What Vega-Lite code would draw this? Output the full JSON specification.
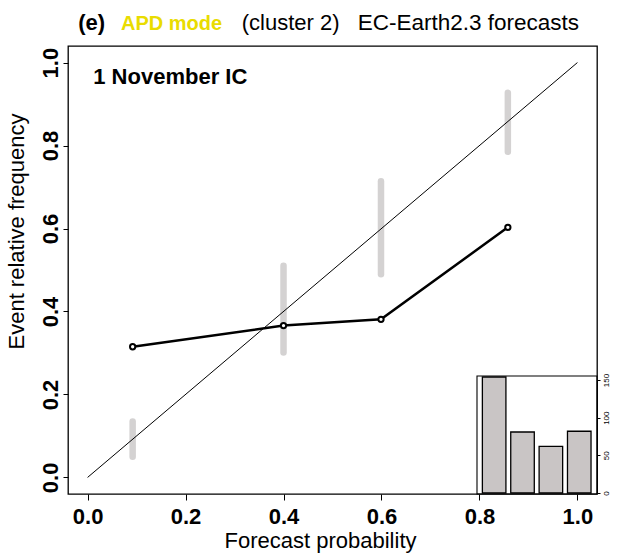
{
  "$schema": "https://vega.github.io/schema/vega-lite/v6.json",
  "width": 529,
  "height": 448,
  "autosize": {"type": "none"},
  "padding": {"left": 68, "top": 46, "right": 22, "bottom": 60},
  "background": "white",
  "config": {
    "font": "Liberation Sans",
    "view": {"stroke": "black", "strokeWidth": 1.3}
  },
  "datasets": {
    "rel": [
      {"prob": 0.092, "freq": 0.315, "lo": 0.05, "hi": 0.135},
      {"prob": 0.4, "freq": 0.366, "lo": 0.301, "hi": 0.51},
      {"prob": 0.599, "freq": 0.381, "lo": 0.49, "hi": 0.714},
      {"prob": 0.858, "freq": 0.603, "lo": 0.785, "hi": 0.927}
    ],
    "hist": [
      {"bin": "0.09", "count": 154},
      {"bin": "0.40", "count": 81},
      {"bin": "0.60", "count": 62},
      {"bin": "0.86", "count": 82}
    ],
    "one": [{}]
  },
  "layer": [
    {
      "layer": [
        {
          "data": {"name": "rel"},
          "mark": {"type": "rule", "stroke": "#d4d2d2", "strokeWidth": 6.5, "strokeCap": "round"},
          "encoding": {
            "x": {
              "field": "prob", "type": "quantitative",
              "scale": {"domain": [-0.04, 1.04], "nice": false, "zero": false},
              "axis": {
                "title": "Forecast probability",
                "values": [0, 0.2, 0.4, 0.6, 0.8, 1.0],
                "format": ".1f",
                "grid": false, "domain": false,
                "tickSize": 6, "tickColor": "black", "tickWidth": 1,
                "labelFontSize": 22, "labelFontWeight": "bold", "labelColor": "black",
                "labelPadding": 6,
                "titleFontSize": 22, "titleFontWeight": "normal", "titleColor": "black",
                "titlePadding": 3,
                "titleX": 252
              }
            },
            "y": {
              "field": "lo", "type": "quantitative",
              "scale": {"domain": [-0.04, 1.04], "nice": false, "zero": false},
              "axis": {
                "title": "Event relative frequency",
                "values": [0, 0.2, 0.4, 0.6, 0.8, 1.0],
                "format": ".1f",
                "grid": false, "domain": false,
                "tickSize": 5, "tickColor": "black", "tickWidth": 1,
                "labelFontSize": 22, "labelFontWeight": "bold", "labelColor": "black",
                "labelAngle": -90, "labelAlign": "center", "labelBaseline": "alphabetic",
                "labelPadding": 6,
                "titleFontSize": 22, "titleFontWeight": "normal", "titleColor": "black",
                "titlePadding": 11,
                "titleY": 185
              }
            },
            "y2": {"field": "hi"}
          }
        },
        {
          "data": {"name": "one"},
          "mark": {"type": "rule", "stroke": "black", "strokeWidth": 1},
          "encoding": {
            "x": {"datum": 0, "type": "quantitative"},
            "y": {"datum": 0, "type": "quantitative"},
            "x2": {"datum": 1},
            "y2": {"datum": 1}
          }
        },
        {
          "data": {"name": "rel"},
          "mark": {"type": "line", "stroke": "black", "strokeWidth": 2.5},
          "encoding": {
            "x": {"field": "prob", "type": "quantitative"},
            "y": {"field": "freq", "type": "quantitative"}
          }
        },
        {
          "data": {"name": "rel"},
          "mark": {"type": "point", "shape": "circle", "filled": true, "fill": "white", "stroke": "black", "strokeWidth": 2, "size": 28, "opacity": 1},
          "encoding": {
            "x": {"field": "prob", "type": "quantitative"},
            "y": {"field": "freq", "type": "quantitative"}
          }
        },
        {
          "data": {"name": "one"},
          "mark": {"type": "rect", "filled": false, "stroke": "black", "strokeWidth": 1.1},
          "encoding": {
            "x": {"datum": 0.795, "type": "quantitative"},
            "x2": {"datum": 1.04},
            "y": {"datum": 0.2445, "type": "quantitative"},
            "y2": {"datum": -0.04}
          }
        },
        {
          "data": {"name": "one"},
          "mark": {"type": "text", "text": "1 November IC", "fontSize": 22, "fontWeight": "bold", "align": "left", "baseline": "alphabetic", "color": "black"},
          "encoding": {
            "x": {"datum": 0.0116, "type": "quantitative"},
            "y": {"datum": 0.949, "type": "quantitative"}
          }
        },
        {
          "data": {"name": "one"},
          "mark": {"type": "text", "text": "(e)", "fontSize": 22, "fontWeight": "bold", "align": "left", "baseline": "alphabetic", "color": "black"},
          "encoding": {
            "x": {"datum": -0.019, "type": "quantitative"},
            "y": {"datum": 1.0786, "type": "quantitative"}
          }
        },
        {
          "data": {"name": "one"},
          "mark": {"type": "text", "text": "APD mode", "fontSize": 20, "fontWeight": "bold", "align": "left", "baseline": "alphabetic", "color": "#e9dc00"},
          "encoding": {
            "x": {"datum": 0.0682, "type": "quantitative"},
            "y": {"datum": 1.0786, "type": "quantitative"}
          }
        },
        {
          "data": {"name": "one"},
          "mark": {"type": "text", "text": "(cluster 2)", "fontSize": 22, "align": "left", "baseline": "alphabetic", "color": "black"},
          "encoding": {
            "x": {"datum": 0.3148, "type": "quantitative"},
            "y": {"datum": 1.0786, "type": "quantitative"}
          }
        },
        {
          "data": {"name": "one"},
          "mark": {"type": "text", "text": "EC-Earth2.3 forecasts", "fontSize": 22.5, "align": "left", "baseline": "alphabetic", "color": "black"},
          "encoding": {
            "x": {"datum": 0.5514, "type": "quantitative"},
            "y": {"datum": 1.0786, "type": "quantitative"}
          }
        }
      ]
    },
    {
      "data": {"name": "hist"},
      "mark": {"type": "bar", "fill": "#c9c5c5", "stroke": "black", "strokeWidth": 1.3},
      "encoding": {
        "x": {
          "field": "bin", "type": "nominal", "sort": null,
          "scale": {"range": [408.7, 528.7], "paddingInner": 0.17, "paddingOuter": 0.2},
          "axis": null
        },
        "y": {
          "field": "count", "type": "quantitative",
          "scale": {"domain": [0, 150], "range": [447, 334], "nice": false, "zero": true},
          "axis": {
            "orient": "right",
            "title": null,
            "values": [0, 50, 100, 150],
            "grid": false, "domain": true, "domainColor": "black",
            "tickSize": 3, "tickColor": "black",
            "labelFontSize": 8, "labelColor": "black",
            "labelAngle": -90, "labelAlign": "center", "labelBaseline": "top",
            "labelPadding": 2
          }
        }
      }
    }
  ],
  "resolve": {"scale": {"x": "independent", "y": "independent"}}
}
